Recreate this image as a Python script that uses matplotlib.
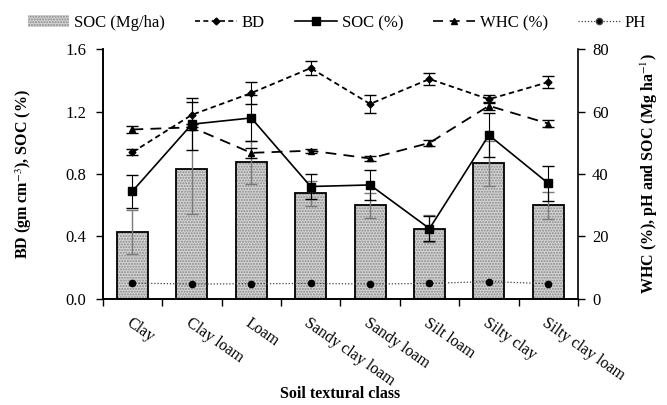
import numpy as np
import matplotlib
matplotlib.use("Agg")
import matplotlib.pyplot as plt
from matplotlib.patches import Patch
from matplotlib.lines import Line2D

plt.rcParams['font.family'] = ['Liberation Serif', 'DejaVu Serif']
plt.rcParams['mathtext.fontset'] = 'stix'

# 土壤质地类别
classes = ['Clay', 'Clay loam', 'Loam', 'Sandy clay loam', 'Sandy loam',
           'Silt loam', 'Silty clay', 'Silty clay loam']

# 右轴: SOC (Mg/ha) 柱状
soc_mg = [21.3, 41.6, 43.8, 33.8, 30.0, 22.5, 43.4, 30.0]
soc_mg_err = [7.1, 14.4, 6.9, 3.9, 4.0, 4.3, 7.3, 4.3]

# 左轴: BD, SOC (%)
bd = [0.94, 1.18, 1.32, 1.48, 1.25, 1.41, 1.28, 1.39]
bd_err = [0.02, 0.08, 0.07, 0.045, 0.06, 0.04, 0.025, 0.04]
soc_pct = [0.69, 1.12, 1.16, 0.72, 0.73, 0.45, 1.05, 0.74]
soc_pct_err = [0.105, 0.167, 0.145, 0.079, 0.096, 0.08, 0.14, 0.113]

# 右轴: WHC (%), pH
whc = [54.3, 55.0, 46.8, 47.5, 45.0, 50.0, 61.9, 56.2]
whc_err = [1.0, 1.0, 1.5, 0.6, 0.8, 1.0, 1.3, 1.0]
ph = [5.0, 4.7, 4.8, 4.9, 4.7, 4.9, 5.5, 4.8]

x = np.arange(len(classes)) + 0.5

fig = plt.figure(figsize=(6.67, 4.05), dpi=100)
ax = fig.add_axes([0.154, 0.2625, 0.7126, 0.6155])
ax2 = ax.twinx()
ax.set_zorder(ax2.get_zorder() + 1)
ax.patch.set_visible(False)

# 柱状图(带点状纹理)
ax2.bar(x, soc_mg, width=0.52, color='#d4d4d4', hatch='......',
        edgecolor='#8a8a8a', linewidth=0, zorder=1)
ax2.bar(x, soc_mg, width=0.52, fill=False, edgecolor='black',
        linewidth=1.3, zorder=2)
ax2.errorbar(x, soc_mg, yerr=soc_mg_err, fmt='none', ecolor='#7a7a7a',
             elinewidth=1.0, capsize=4, capthick=1.0, zorder=3)

# 右轴折线
ax2.errorbar(x, whc, yerr=whc_err, color='black', linestyle=(0, (6, 4)),
             marker='^', markersize=5, linewidth=1.3, capsize=4,
             elinewidth=0.8, zorder=4)
ax2.plot(x, ph, color='#444444', linestyle=(0, (1, 1.5)), marker='o',
         markersize=4.5, markerfacecolor='black', markeredgecolor='black',
         linewidth=0.9, zorder=4)

# 左轴折线
ax.errorbar(x, bd, yerr=bd_err, color='black', linestyle=(0, (3, 2)),
            marker='D', markersize=3.5, linewidth=1.3, capsize=4,
            elinewidth=0.8, zorder=5)
ax.errorbar(x, soc_pct, yerr=soc_pct_err, color='black', linestyle='-',
            marker='s', markersize=6, linewidth=1.2, capsize=4,
            elinewidth=0.8, zorder=5)

ax.set_xlim(0, len(classes))
ax.set_ylim(0, 1.6)
ax2.set_ylim(0, 80)
ax.set_yticks([0.0, 0.4, 0.8, 1.2, 1.6])
ax.set_yticklabels(['0.0', '0.4', '0.8', '1.2', '1.6'])
ax2.set_yticks([0, 20, 40, 60, 80])

ax.set_xticks(x)
ax.set_xticklabels(classes, rotation=-35, ha='left', va='top',
                   rotation_mode='anchor', fontsize=11.5)
ax.set_xticks(np.arange(len(classes) + 1), minor=True)
ax.tick_params(axis='x', which='major', length=0, pad=12)
ax.tick_params(axis='x', which='minor', length=5, width=1.0, direction='out')
ax.tick_params(axis='y', labelsize=12, length=5, width=1.0, direction='out',
               pad=7)
ax2.tick_params(axis='y', labelsize=12, length=5, width=1.0, direction='out',
                pad=5)

for a in (ax, ax2):
    a.spines['top'].set_visible(False)
    for s in ('left', 'right', 'bottom'):
        a.spines[s].set_linewidth(1.2)
ax.spines['right'].set_visible(False)

ax.set_ylabel('BD (gm cm$^{-3}$), SOC (%)', fontsize=11.5, fontweight='bold',
              labelpad=22)
ax2.set_ylabel('WHC (%), pH and SOC (Mg ha$^{-1}$)', fontsize=11.5,
               fontweight='bold', labelpad=22)
# x轴标题单独放置, 避免被旋转的刻度标签挤出画布
fig.text(0.51, 0.028, 'Soil textural class', fontsize=11.5, fontweight='bold',
         ha='center', va='center')

handles = [
    Patch(facecolor='#d4d4d4', hatch='......', edgecolor='#8a8a8a', linewidth=0),
    Line2D([], [], color='black', linestyle=(0, (3, 2)), marker='D',
           markersize=3.5, linewidth=1.2),
    Line2D([], [], color='black', linestyle='-', marker='s', markersize=6,
           linewidth=1.2),
    Line2D([], [], color='black', linestyle=(0, (6, 4)), marker='^',
           markersize=5, linewidth=1.2),
    Line2D([], [], color='#444444', linestyle=(0, (1, 1.5)), marker='o',
           markersize=4.5, markerfacecolor='black', linewidth=0.9),
]
labels = ['SOC (Mg/ha)', 'BD', 'SOC (%)', 'WHC (%)', 'PH']
fig.legend(handles, labels, loc='upper center', bbox_to_anchor=(0.505, 1.0),
           ncol=5, frameon=False, fontsize=12, handlelength=2.5,
           columnspacing=1.8, handletextpad=0.3)

fig.savefig('out.png', dpi=100)
